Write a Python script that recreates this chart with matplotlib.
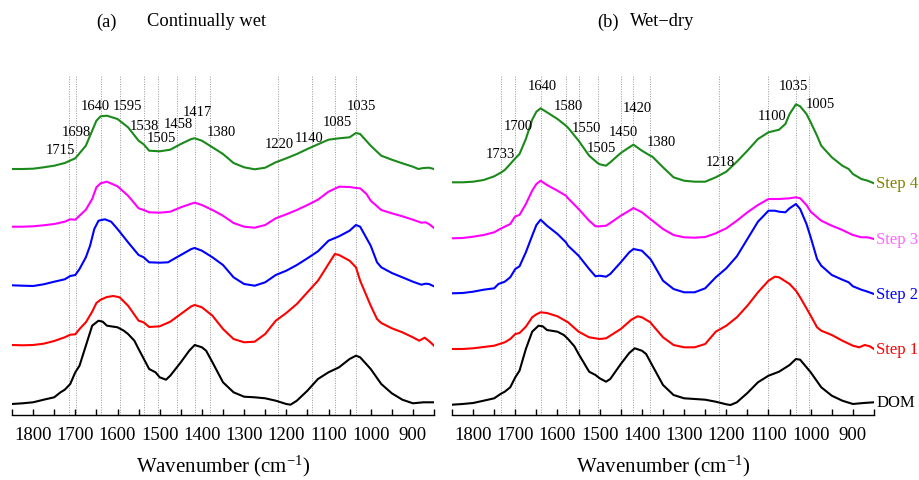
# -*- coding: utf-8 -*-
# FTIR spectra of DOM and the four extraction steps, two treatments side by side

import numpy as np
import matplotlib
matplotlib.use("Agg")
import matplotlib.pyplot as plt

# Settings
DPI = 100
FONT = "Liberation Serif"
plt.rcParams["font.family"] = [FONT, "DejaVu Serif"]
plt.rcParams["mathtext.default"] = "regular"

# Spectra, (wavenumber, offset absorbance) pairs
wet_dom = [(1850, 11), (1825, 11.7), (1800, 12.7), (1775, 15.3), (1750, 17.7), (1735, 22.7),
           (1725, 25.3), (1712, 31), (1700, 42.7), (1690, 49.3), (1675, 69.3), (1660, 89.3),
           (1645, 94.3), (1635, 93.3), (1625, 89.3), (1600, 87.7), (1585, 84.3), (1575, 81),
           (1560, 74.3), (1550, 66), (1525, 46), (1510, 42.7), (1500, 37.7), (1485, 35.3),
           (1475, 39.3), (1450, 52.7), (1430, 64.3), (1417, 70), (1400, 67.7), (1390, 64.3),
           (1375, 52.7), (1350, 32.7), (1325, 22.7), (1300, 18.3), (1275, 17.7), (1250, 16.7),
           (1225, 14.3), (1200, 11), (1190, 10.3), (1175, 14.3), (1150, 24.3), (1125, 36),
           (1100, 42.7), (1075, 47.7), (1050, 56), (1035, 59.3), (1025, 57.7), (1000, 46),
           (975, 31), (950, 21.7), (925, 15.3), (900, 11.7), (875, 12.7), (850, 12.7)]

wet_step1 = [(1850, 70), (1825, 69.7), (1800, 70), (1775, 71.3), (1750, 74), (1725, 77.7),
             (1712, 80.3), (1700, 80.7), (1690, 86), (1675, 92.7), (1660, 103.3), (1650, 112),
             (1640, 115.3), (1625, 118), (1610, 119), (1595, 117.7), (1575, 109.3), (1550, 94.3),
             (1538, 92.7), (1525, 88), (1500, 88.7), (1475, 93.3), (1450, 101), (1425, 108.7),
             (1417, 110), (1400, 107.7), (1375, 99.3), (1350, 86), (1325, 76), (1300, 72.7),
             (1275, 73.3), (1250, 81), (1225, 94.3), (1200, 102), (1175, 111), (1150, 122.7),
             (1125, 134.3), (1100, 151), (1085, 161), (1075, 160), (1050, 154.3), (1035, 147.7),
             (1025, 134.3), (1000, 109.3), (985, 96), (975, 92), (950, 86.7), (925, 82.7),
             (900, 77.7), (885, 74.3), (872, 77.3), (860, 73.3), (850, 69.3)]

wet_step2 = [(1850, 129.7), (1825, 129.3), (1800, 129), (1775, 130.7), (1750, 133.3), (1725, 135.7),
             (1712, 139), (1700, 140), (1690, 146), (1675, 157.7), (1665, 169.3), (1655, 186),
             (1645, 194.3), (1630, 195.7), (1615, 193.3), (1600, 186), (1575, 172.7), (1550, 160),
             (1538, 157.7), (1525, 152.7), (1500, 152.3), (1480, 152.7), (1475, 154), (1450, 160),
             (1425, 166), (1417, 167), (1400, 164.3), (1375, 157.7), (1350, 150), (1325, 137.7),
             (1300, 131), (1275, 129.3), (1250, 132.7), (1225, 140), (1200, 144.3), (1175, 150),
             (1150, 156.7), (1125, 163.7), (1100, 174.3), (1075, 178.7), (1050, 184.3), (1035, 190),
             (1025, 188.3), (1000, 169.3), (985, 152.7), (975, 147.7), (950, 142), (925, 137.7),
             (900, 133.3), (880, 130.3), (870, 131.3), (862, 131), (850, 128.7)]

wet_step3 = [(1850, 188.3), (1825, 188.3), (1800, 188.7), (1775, 189.7), (1750, 191), (1725, 193.3),
             (1712, 195.7), (1700, 195.3), (1690, 199.3), (1675, 205.3), (1660, 216), (1650, 227.7),
             (1640, 231.7), (1625, 233.3), (1600, 228.7), (1575, 219.3), (1550, 206.7), (1538, 205),
             (1525, 202.7), (1500, 202.3), (1475, 203.3), (1450, 207.7), (1425, 211.3), (1417, 212.3),
             (1400, 210), (1375, 205), (1350, 199.3), (1325, 192), (1300, 188.3), (1275, 187.3),
             (1250, 190), (1225, 196.7), (1200, 200.7), (1175, 205), (1150, 210), (1125, 215.3),
             (1100, 223.3), (1075, 228.3), (1050, 228), (1035, 227), (1025, 226.7), (1010, 221),
             (1000, 214.3), (975, 205), (950, 201.7), (925, 198.7), (900, 195.3), (880, 192.3),
             (870, 192.7), (862, 191), (850, 187)]

wet_step4 = [(1850, 246), (1825, 246), (1800, 246.3), (1775, 247.7), (1750, 249.3), (1725, 252),
             (1700, 256.7), (1675, 269.3), (1650, 294.3), (1640, 298.7), (1625, 299.3), (1600, 296),
             (1575, 287.7), (1550, 274.3), (1538, 270.7), (1525, 264.3), (1500, 263.7), (1475, 265.3),
             (1450, 271), (1425, 276), (1417, 276.7), (1400, 274.3), (1375, 267.7), (1350, 261),
             (1325, 252), (1300, 247.7), (1275, 245.7), (1250, 247.3), (1225, 252.7), (1200, 256.7),
             (1175, 261), (1150, 266), (1125, 270.7), (1100, 275.3), (1075, 276.7), (1050, 277.7),
             (1035, 282), (1025, 281), (1000, 269.3), (975, 259.3), (950, 255.3), (925, 251.7),
             (900, 248.3), (887, 246), (875, 247), (862, 247.3), (850, 246)]

dry_dom = [(1850, 10.3), (1825, 11), (1800, 12), (1775, 14.3), (1750, 16.7), (1735, 21),
           (1725, 23.3), (1712, 27.7), (1700, 37.7), (1690, 44.3), (1675, 66), (1660, 83.3),
           (1645, 89.3), (1635, 88.7), (1625, 85), (1600, 83.3), (1585, 80), (1575, 76),
           (1560, 68.7), (1550, 61), (1525, 43.3), (1510, 40), (1500, 36.7), (1485, 33.3),
           (1475, 36), (1450, 51), (1430, 62), (1417, 66.7), (1400, 64.3), (1390, 61),
           (1375, 49.3), (1350, 30), (1325, 20), (1300, 16.7), (1275, 16), (1250, 15.3),
           (1225, 13.3), (1200, 10.7), (1190, 10), (1175, 12.7), (1150, 22), (1125, 32.7),
           (1100, 39.3), (1075, 43.3), (1050, 50), (1035, 56), (1025, 55.3), (1000, 42.7),
           (975, 27.7), (950, 19.3), (925, 14.3), (900, 11), (875, 12), (850, 12.7)]

dry_step1 = [(1850, 66), (1825, 66), (1800, 66.7), (1775, 68), (1750, 69.3), (1725, 72.7),
             (1712, 76), (1700, 81), (1690, 82), (1675, 88.3), (1660, 97.7), (1650, 100.7),
             (1640, 102.7), (1625, 102), (1600, 98.7), (1575, 92.7), (1550, 83.3), (1525, 77.7),
             (1500, 76), (1485, 76.7), (1475, 79.3), (1450, 86), (1425, 95.3), (1410, 98.7),
             (1400, 97.7), (1380, 92.7), (1375, 90), (1350, 77.7), (1325, 70), (1300, 67.7),
             (1275, 67.7), (1250, 71), (1225, 83.3), (1200, 89.3), (1175, 97.7), (1150, 109.3),
             (1125, 122.7), (1100, 134.3), (1085, 138.3), (1075, 137.7), (1050, 131), (1035, 124.3),
             (1025, 117.7), (1000, 99.3), (985, 87.7), (975, 84.3), (950, 80), (925, 74.3),
             (900, 69.3), (885, 67.7), (872, 70), (860, 68.7), (850, 66)]

dry_step2 = [(1850, 121.7), (1825, 122), (1800, 123.3), (1775, 125.3), (1750, 126.7), (1740, 131),
             (1725, 133.3), (1712, 137.7), (1700, 146), (1690, 148.7), (1675, 162.7), (1660, 179.3),
             (1650, 190), (1640, 195.3), (1625, 189.3), (1600, 181), (1580, 172.7), (1575, 169.3),
             (1550, 159.3), (1525, 146), (1510, 138.7), (1500, 139.3), (1485, 138.3), (1475, 141),
             (1450, 152.7), (1430, 162.7), (1420, 166), (1400, 164.3), (1380, 156), (1375, 152.7),
             (1350, 134.3), (1325, 126), (1300, 122.7), (1275, 122.7), (1250, 126.7), (1225, 137.7),
             (1200, 146.7), (1175, 158.7), (1150, 176), (1125, 193.3), (1100, 204.3), (1085, 204.3),
             (1075, 203.3), (1060, 202.7), (1050, 206.7), (1035, 211), (1025, 206), (1010, 191),
             (1000, 177.7), (985, 156), (975, 149.3), (950, 140), (925, 135.3), (910, 132.7),
             (900, 128.7), (880, 125.3), (865, 123.3), (850, 121)]

dry_step3 = [(1850, 176.7), (1825, 177), (1800, 178.3), (1775, 180), (1750, 182.7), (1733, 186.7),
             (1725, 188.3), (1712, 191), (1700, 198.7), (1690, 200), (1675, 211), (1660, 224.3),
             (1650, 231), (1640, 234.3), (1625, 230), (1600, 224.3), (1580, 219.3), (1575, 216.7),
             (1550, 206), (1525, 194.3), (1510, 188.7), (1500, 188.7), (1485, 189.3), (1475, 192),
             (1450, 199.3), (1430, 204.3), (1420, 207), (1400, 202.7), (1380, 196), (1350, 186),
             (1325, 180), (1300, 177.7), (1275, 177.3), (1250, 178), (1225, 181.7), (1200, 186.7),
             (1175, 194.3), (1150, 202.7), (1125, 210), (1100, 216), (1075, 216), (1050, 216.7),
             (1035, 217.7), (1025, 216.7), (1010, 210), (1000, 203.3), (975, 194.3), (950, 189.3),
             (925, 185), (900, 180), (880, 177.7), (865, 177.7), (850, 176)]

dry_step4 = [(1850, 232.7), (1825, 232.7), (1800, 233.3), (1775, 235), (1750, 238.7), (1733, 242.7),
             (1725, 245), (1712, 251), (1700, 256.7), (1690, 261), (1675, 276), (1660, 295.3),
             (1650, 303.3), (1640, 306.7), (1625, 302.7), (1600, 296), (1580, 289.3), (1575, 287.3),
             (1550, 274.3), (1525, 259.3), (1505, 252), (1500, 250.7), (1485, 249.3), (1475, 252.7),
             (1450, 262), (1430, 267.7), (1420, 270.3), (1400, 264.3), (1380, 259.3), (1375, 258.3),
             (1350, 247.7), (1325, 237.7), (1300, 234.3), (1275, 233.3), (1250, 233.3), (1225, 237.7),
             (1200, 243.3), (1175, 253.3), (1150, 264.3), (1125, 276), (1100, 282.7), (1075, 285.3),
             (1060, 291), (1050, 301), (1035, 310.7), (1025, 308.7), (1010, 301), (1000, 292.7),
             (985, 279.3), (975, 269.3), (950, 257.7), (925, 249.3), (910, 246), (900, 241),
             (880, 236), (865, 234.3), (850, 231.7)]

# Band assignments marked on each panel
wet_bands = [1715, 1698, 1640, 1595, 1538, 1505, 1458, 1417, 1380, 1220, 1140, 1085, 1035]
dry_bands = [1733, 1700, 1640, 1580, 1550, 1505, 1450, 1420, 1380, 1218, 1100, 1035, 1005]

# Label anchors (wavenumber, height) for the band numbers
wet_band_pos = [(1736, 265), (1698, 283), (1653, 310), (1577, 309), (1537, 290), (1497, 277),
                (1457, 292), (1410, 304), (1355, 283), (1217, 271), (1146, 278), (1079, 294),
                (1021, 309)]
dry_band_pos = [(1736, 262), (1693, 290), (1635, 330), (1574, 310), (1531, 288), (1495, 268),
                (1445, 283), (1412, 307), (1355, 274), (1215, 253), (1092, 300), (1040, 330),
                (978, 312)]

series_names = ["DOM", "Step 1", "Step 2", "Step 3", "Step 4"]
line_colors = ["black", "#ff0000", "#0000ff", "#ff00ff", "#1a8a1a"]
name_colors = ["black", "#ff0000", "#0000ff", "#ff66ff", "#808000"]


def DrawPanel(ax, spectra, bands, band_pos, label_ends=False):

    # Dotted guide lines at each band
    ax.vlines(bands, 0, 340, colors="#999999", linestyles=(0, (1, 1.5)), lw=0.7, zorder=1)

    for spec, color, name, ncolor in zip(spectra, line_colors, series_names, name_colors):
        arr = np.array(spec, dtype=float)
        ax.plot(arr[:, 0], arr[:, 1], color=color, lw=1.5, zorder=3)
        if label_ends:
            ax.annotate(name, xy=(arr[-1, 0], arr[-1, 1]), xytext=(1.5, 0),
                        textcoords="offset points", ha="left", va="center",
                        color=ncolor, fontsize=12, annotation_clip=False)

    # Band numbers
    for band, (wn, h) in zip(bands, band_pos):
        ax.text(wn, h, str(band), ha="center", va="center", fontsize=10.5, zorder=4)

    # Axis cosmetics: only the bottom spine with inward ticks
    ax.set_xlim(1850, 850)
    ax.set_ylim(0, 340)
    for side in ["left", "right", "top"]:
        ax.spines[side].set_visible(False)
    ax.spines["bottom"].set_linewidth(1.0)
    ax.set_yticks([])
    ax.set_xticks(np.arange(1800, 850, -100))
    ax.set_xticks(np.arange(1850, 849, -50), minor=True)
    ax.tick_params(axis="x", which="both", direction="in", length=4, width=1.0,
                   labelsize=13.5, pad=8)
    ax.set_xlabel("Wavenumber (cm$^{-1}$)", fontsize=15, labelpad=7)


fig = plt.figure(figsize=(9.2, 4.81), dpi=DPI)
ax_a = fig.add_axes([12 / 920, 65 / 481, 422 / 920, 340 / 481])
ax_b = fig.add_axes([452 / 920, 65 / 481, 422 / 920, 340 / 481])

DrawPanel(ax_a, [wet_dom, wet_step1, wet_step2, wet_step3, wet_step4], wet_bands, wet_band_pos)
DrawPanel(ax_b, [dry_dom, dry_step1, dry_step2, dry_step3, dry_step4], dry_bands, dry_band_pos,
          label_ends=True)

# Panel titles
title_y = 1 - 22 / 481
fig.text(96 / 920, title_y, "(a)", ha="left", va="center", fontsize=13.3)
fig.text(147 / 920, title_y, "Continually wet", ha="left", va="center", fontsize=13.3)
fig.text(597 / 920, title_y, "(b)", ha="left", va="center", fontsize=13.3)
fig.text(630 / 920, title_y, "Wet\u2212dry", ha="left", va="center", fontsize=13.3)

fig.savefig("out.png", dpi=DPI)
